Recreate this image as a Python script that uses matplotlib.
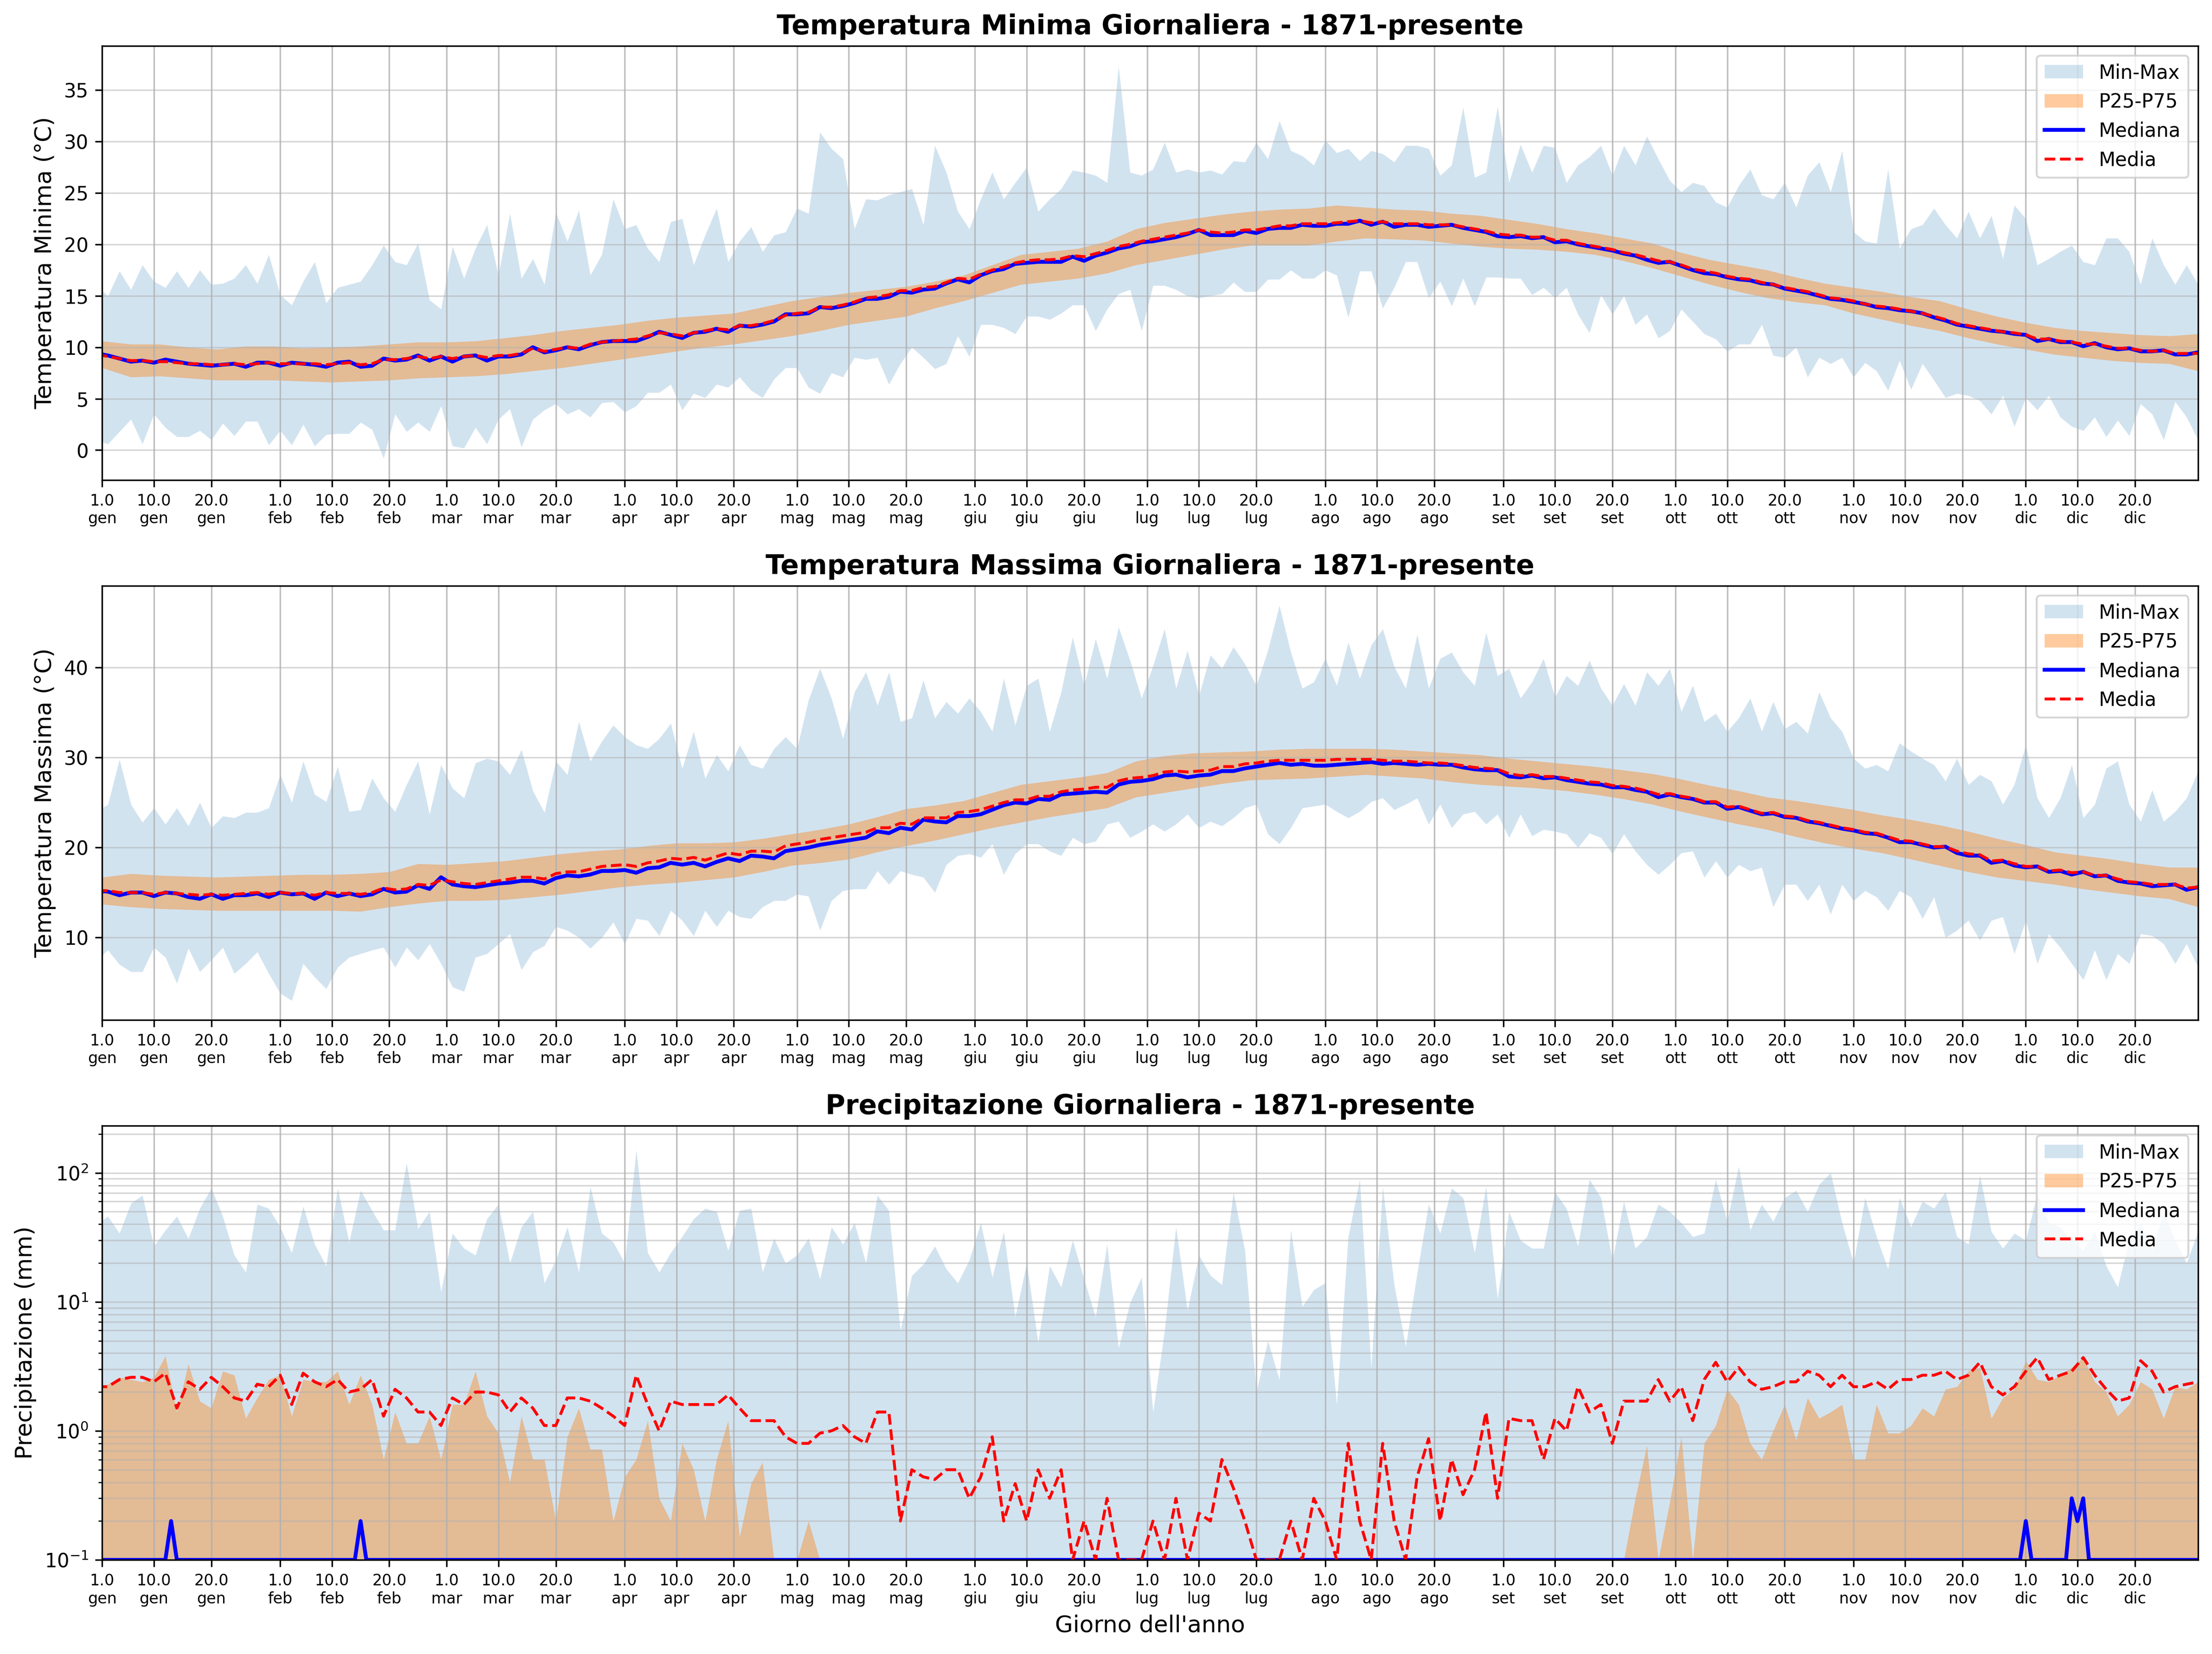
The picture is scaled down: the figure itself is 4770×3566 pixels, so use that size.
import numpy as np
import matplotlib.pyplot as plt

# griglie dei giorni (anno bisestile)
days2 = np.arange(0, 367, 2)
days5 = np.arange(1, 367, 5)
days_all = np.arange(1, 367)

month_names = ['gen', 'feb', 'mar', 'apr', 'mag', 'giu',
               'lug', 'ago', 'set', 'ott', 'nov', 'dic']
month_start = [1, 32, 61, 92, 122, 153, 183, 214, 245, 275, 306, 336]

# --- temperatura minima ---
tmin_max = [
    16.0, 15.0, 17.4, 15.6, 18.0, 16.4, 15.8, 17.4, 15.8, 17.5,
    16.1, 16.2, 16.7, 18.0, 16.2, 19.0, 15.1, 14.1, 16.4, 18.3,
    14.3, 15.8, 16.1, 16.4, 18.0, 19.9, 18.3, 18.0, 20.1, 14.6,
    13.7, 19.8, 16.7, 19.6, 21.9, 17.0, 23.0, 16.7, 18.6, 16.1,
    23.1, 20.3, 23.3, 17.0, 19.0, 24.4, 21.5, 21.9, 19.6, 18.3,
    22.2, 22.5, 18.0, 20.9, 23.5, 18.3, 20.3, 21.7, 19.3, 20.9,
    21.2, 23.5, 23.0, 30.9, 29.3, 28.3, 21.5, 24.4, 24.3, 24.8,
    25.1, 25.4, 21.9, 29.6, 27.0, 23.2, 21.5, 24.4, 27.0, 24.4,
    26.0, 27.5, 23.2, 24.4, 25.4, 27.2, 27.0, 26.7, 26.0, 37.3,
    27.0, 26.7, 27.3, 29.9, 27.0, 27.3, 27.0, 27.2, 26.8, 28.1,
    28.0, 29.9, 28.3, 32.0, 29.1, 28.6, 27.7, 30.1, 28.9, 29.3,
    28.1, 29.1, 28.8, 28.0, 29.6, 29.6, 29.3, 26.7, 27.7, 33.3,
    26.5, 27.0, 33.4, 26.0, 29.7, 27.0, 29.6, 29.4, 26.0, 27.7,
    28.5, 29.6, 26.7, 29.6, 27.7, 30.5, 28.3, 26.2, 25.1, 26.0,
    25.7, 24.1, 23.6, 25.7, 27.3, 24.8, 24.4, 26.0, 23.6, 26.7,
    28.0, 25.1, 29.1, 21.2, 20.3, 20.1, 27.3, 19.6, 21.5, 21.9,
    23.5, 21.9, 20.6, 23.2, 20.6, 22.8, 18.6, 23.8, 22.5, 18.0,
    18.6, 19.3, 19.9, 18.3, 18.0, 20.6, 20.6, 19.3, 16.1, 20.6,
    18.0, 16.1, 18.0, 16.1]
tmin_min = [
    1.0, 0.6, 1.8, 3.0, 0.6, 3.5, 2.2, 1.3, 1.3, 1.9,
    1.0, 2.6, 1.4, 2.8, 2.8, 0.5, 1.9, 0.5, 2.5, 0.4,
    1.5, 1.6, 1.6, 2.7, 2.0, -0.8, 3.5, 1.8, 2.7, 1.8,
    4.3, 0.4, 0.2, 2.2, 0.6, 3.0, 4.0, 0.3, 3.0, 3.9,
    4.5, 3.5, 4.0, 3.2, 4.6, 4.7, 3.7, 4.3, 5.6, 5.6,
    6.4, 3.9, 5.5, 5.1, 6.4, 6.1, 7.1, 5.8, 5.1, 6.9,
    8.0, 8.0, 6.1, 5.5, 7.5, 7.1, 9.0, 8.8, 9.0, 6.4,
    8.4, 10.0, 9.0, 7.9, 8.4, 11.1, 9.1, 12.2, 12.2, 11.9,
    11.3, 13.0, 13.0, 12.7, 13.3, 14.1, 14.1, 11.6, 13.7, 15.2,
    15.6, 11.6, 16.0, 16.0, 15.6, 15.0, 14.8, 15.0, 15.2, 16.3,
    15.4, 15.4, 16.6, 16.6, 17.5, 16.7, 16.7, 17.5, 17.0, 12.9,
    17.4, 17.4, 13.8, 15.8, 18.3, 18.3, 14.8, 16.4, 14.0, 16.7,
    14.0, 16.8, 16.8, 16.7, 16.7, 15.1, 15.8, 14.8, 15.8, 13.2,
    11.4, 15.1, 13.2, 15.0, 12.2, 13.2, 10.9, 11.6, 13.7, 12.5,
    11.3, 10.8, 9.6, 10.3, 10.3, 12.2, 9.2, 9.0, 10.0, 7.1,
    9.0, 8.4, 9.0, 7.1, 8.5, 7.7, 5.8, 8.7, 5.9, 8.4,
    6.8, 5.1, 5.5, 5.3, 4.8, 3.5, 5.3, 2.3, 5.1, 3.9,
    5.3, 3.2, 2.3, 1.9, 3.2, 1.3, 2.9, 1.4, 4.5, 3.5,
    1.0, 4.7, 3.2, 1.0]
tmin_median = [
    9.4, 9.2, 8.9, 8.6, 8.7, 8.5, 8.8, 8.6, 8.4, 8.3,
    8.2, 8.3, 8.4, 8.1, 8.5, 8.5, 8.2, 8.5, 8.4, 8.3,
    8.1, 8.5, 8.6, 8.1, 8.2, 8.9, 8.7, 8.8, 9.2, 8.7,
    9.1, 8.6, 9.1, 9.2, 8.7, 9.1, 9.1, 9.3, 10.0, 9.5,
    9.7, 10.0, 9.8, 10.2, 10.5, 10.6, 10.6, 10.6, 11.0, 11.5,
    11.2, 10.9, 11.4, 11.5, 11.8, 11.5, 12.1, 12.0, 12.2, 12.5,
    13.2, 13.2, 13.3, 13.9, 13.8, 14.0, 14.3, 14.7, 14.7, 14.9,
    15.4, 15.3, 15.6, 15.7, 16.2, 16.6, 16.3, 17.0, 17.4, 17.6,
    18.1, 18.2, 18.3, 18.3, 18.3, 18.8, 18.4, 18.9, 19.2, 19.6,
    19.8, 20.2, 20.3, 20.5, 20.7, 21.0, 21.4, 20.9, 20.9, 20.9,
    21.3, 21.1, 21.5, 21.6, 21.6, 21.9, 21.8, 21.8, 22.0, 22.0,
    22.3, 21.9, 22.2, 21.7, 21.9, 21.9, 21.7, 21.8, 21.9, 21.6,
    21.4, 21.2, 20.8, 20.7, 20.8, 20.6, 20.7, 20.2, 20.3, 20.0,
    19.8, 19.6, 19.4, 19.1, 18.9, 18.5, 18.2, 18.3, 17.9, 17.5,
    17.2, 17.1, 16.8, 16.6, 16.5, 16.2, 16.1, 15.7, 15.5, 15.3,
    15.0, 14.7, 14.6, 14.4, 14.2, 13.9, 13.8, 13.6, 13.5, 13.3,
    12.9, 12.6, 12.2, 12.0, 11.8, 11.6, 11.5, 11.3, 11.2, 10.6,
    10.8, 10.5, 10.5, 10.1, 10.4, 10.0, 9.8, 9.9, 9.6, 9.6,
    9.7, 9.3, 9.3, 9.5]
tmin_mean = [
    9.3, 9.1, 8.9, 8.7, 8.7, 8.6, 8.6, 8.5, 8.4, 8.4,
    8.3, 8.3, 8.4, 8.3, 8.4, 8.5, 8.4, 8.4, 8.4, 8.4,
    8.3, 8.4, 8.5, 8.3, 8.4, 8.8, 8.8, 8.9, 9.1, 8.9,
    9.1, 8.9, 9.1, 9.2, 9.0, 9.2, 9.2, 9.4, 9.9, 9.6,
    9.8, 10.0, 9.9, 10.3, 10.5, 10.6, 10.7, 10.8, 11.1, 11.4,
    11.3, 11.1, 11.4, 11.6, 11.8, 11.7, 12.1, 12.1, 12.3, 12.6,
    13.1, 13.3, 13.4, 13.9, 13.9, 14.1, 14.4, 14.8, 14.9, 15.1,
    15.5, 15.5, 15.8, 15.9, 16.3, 16.7, 16.6, 17.1, 17.5, 17.8,
    18.2, 18.4, 18.5, 18.5, 18.6, 18.9, 18.8, 19.1, 19.4, 19.8,
    20.0, 20.3, 20.5, 20.7, 20.9, 21.1, 21.4, 21.2, 21.1, 21.2,
    21.4, 21.4, 21.6, 21.8, 21.8, 22.0, 22.0, 22.0, 22.1, 22.2,
    22.3, 22.1, 22.2, 22.0, 22.0, 22.0, 21.9, 21.9, 21.9, 21.7,
    21.5, 21.3, 21.0, 20.9, 20.9, 20.7, 20.7, 20.4, 20.4, 20.1,
    19.9, 19.7, 19.5, 19.2, 19.0, 18.7, 18.4, 18.3, 18.0, 17.6,
    17.4, 17.2, 16.9, 16.7, 16.6, 16.3, 16.1, 15.8, 15.6, 15.4,
    15.1, 14.8, 14.7, 14.5, 14.2, 14.0, 13.9, 13.7, 13.5, 13.3,
    13.0, 12.7, 12.3, 12.1, 11.9, 11.7, 11.5, 11.4, 11.2, 10.8,
    10.8, 10.6, 10.5, 10.3, 10.3, 10.1, 9.9, 9.9, 9.7, 9.6,
    9.7, 9.4, 9.4, 9.4]
tmin_p75 = [
    10.6, 10.3, 10.3, 10.0, 9.8, 10.1, 10.1, 9.9, 10.0, 10.1,
    10.3, 10.5, 10.5, 10.6, 10.9, 11.2, 11.6, 11.9, 12.2, 12.6,
    12.9, 13.1, 13.3, 13.9, 14.5, 14.9, 15.3, 15.6, 15.9, 16.4,
    17.0, 18.0, 19.0, 19.3, 19.6, 20.3, 21.5, 22.1, 22.5, 22.9,
    23.2, 23.4, 23.5, 23.8, 23.6, 23.4, 23.3, 23.0, 22.8, 22.4,
    22.0, 21.5, 21.1, 20.6, 20.1, 19.2, 18.5, 18.0, 17.5, 16.8,
    16.2, 15.8, 15.4, 14.9, 14.5, 13.7, 13.0, 12.4, 11.9, 11.6,
    11.4, 11.2, 11.1, 11.3]
tmin_p25 = [
    8.0, 7.1, 7.2, 7.0, 6.8, 6.8, 6.8, 6.7, 6.6, 6.7,
    6.8, 7.0, 7.1, 7.2, 7.4, 7.7, 8.0, 8.4, 8.8, 9.2,
    9.6, 10.0, 10.3, 10.7, 11.1, 11.6, 12.2, 12.6, 13.0, 13.8,
    14.5, 15.3, 16.1, 16.4, 16.7, 17.2, 18.0, 18.5, 19.0, 19.5,
    19.9, 19.9, 19.9, 20.3, 20.6, 20.5, 20.4, 20.1, 19.8, 19.6,
    19.5, 19.3, 19.0, 18.4, 17.7, 16.9, 16.1, 15.4, 14.8, 14.4,
    14.1, 13.3, 12.7, 12.1, 11.6, 10.9, 10.3, 9.8, 9.3, 9.0,
    8.7, 8.5, 8.4, 7.7]

# --- temperatura massima ---
tmax_max = [
    24.0, 24.8, 29.8, 24.8, 22.8, 24.4, 22.6, 24.4, 22.4, 25.0,
    22.2, 23.5, 23.3, 23.9, 23.9, 24.4, 28.1, 25.0, 29.6, 25.9,
    25.1, 29.0, 24.0, 24.2, 27.7, 25.5, 24.0, 27.0, 29.6, 23.7,
    29.2, 26.6, 25.5, 29.4, 29.9, 29.6, 28.1, 30.9, 26.3, 23.9,
    29.6, 28.1, 34.0, 29.6, 31.8, 33.6, 32.3, 31.4, 31.0, 32.1,
    33.8, 28.8, 32.9, 27.7, 30.3, 28.5, 31.4, 29.2, 28.8, 31.0,
    32.3, 31.0, 36.4, 39.9, 36.6, 32.1, 37.3, 39.5, 35.8, 39.5,
    34.0, 34.4, 38.6, 34.4, 36.2, 34.9, 36.6, 35.1, 32.9, 38.8,
    33.6, 38.0, 38.8, 32.9, 37.3, 43.4, 38.0, 43.2, 38.8, 44.5,
    40.8, 36.6, 40.2, 44.3, 37.7, 41.9, 36.9, 41.4, 39.9, 42.3,
    40.4, 38.0, 41.9, 46.9, 41.7, 37.7, 38.4, 41.0, 38.0, 42.8,
    38.8, 42.5, 44.3, 40.1, 37.7, 43.7, 37.7, 41.0, 41.7, 39.5,
    38.0, 43.9, 39.1, 39.9, 36.6, 38.4, 41.0, 36.7, 39.1, 38.0,
    40.8, 37.7, 35.8, 38.2, 35.8, 39.5, 38.0, 39.9, 35.1, 38.0,
    34.0, 34.9, 32.9, 34.4, 36.6, 32.9, 36.2, 33.2, 34.0, 32.7,
    37.3, 34.4, 32.9, 29.9, 28.8, 29.2, 28.5, 31.6, 30.7, 29.9,
    29.2, 27.4, 29.9, 27.0, 28.1, 27.4, 24.8, 27.0, 31.4, 25.5,
    23.3, 25.5, 29.2, 23.3, 24.8, 28.8, 29.6, 24.8, 22.9, 26.4,
    22.9, 24.0, 25.5, 28.5]
tmax_min = [
    7.5, 8.6, 7.0, 6.2, 6.2, 8.9, 7.8, 4.9, 8.8, 6.2,
    7.5, 8.9, 6.0, 7.1, 8.4, 6.0, 3.8, 3.0, 7.1, 5.6,
    4.3, 6.7, 7.8, 8.2, 8.6, 8.9, 6.7, 8.9, 7.5, 9.3,
    7.1, 4.5, 4.0, 7.8, 8.2, 9.3, 10.4, 6.4, 8.4, 9.1,
    11.2, 10.8, 10.0, 8.8, 10.0, 11.7, 9.3, 12.1, 11.9, 10.2,
    13.0, 11.9, 10.2, 13.0, 11.2, 13.0, 12.3, 12.1, 13.4, 14.1,
    14.1, 14.8, 14.6, 10.8, 14.1, 15.2, 15.4, 15.4, 17.4, 15.9,
    17.4, 17.0, 16.7, 15.0, 18.1, 19.1, 19.3, 18.9, 20.4, 17.0,
    19.3, 20.4, 20.4, 19.6, 19.1, 21.1, 20.4, 20.7, 22.6, 22.9,
    21.1, 21.8, 22.6, 21.8, 22.6, 23.7, 22.2, 22.9, 22.4, 23.3,
    24.4, 24.8, 21.5, 20.4, 22.2, 24.4, 24.6, 24.8, 24.0, 23.3,
    24.0, 25.1, 25.5, 24.2, 24.8, 25.5, 22.6, 24.8, 22.2, 23.7,
    24.0, 22.6, 23.7, 21.1, 23.7, 21.3, 22.0, 21.8, 21.5, 20.0,
    21.6, 21.1, 19.3, 21.5, 19.6, 18.1, 17.0, 18.1, 19.4, 19.6,
    16.7, 18.5, 16.7, 18.1, 17.4, 17.8, 13.4, 15.9, 15.9, 14.1,
    15.9, 12.6, 15.9, 14.1, 15.2, 14.5, 13.0, 15.2, 14.5, 12.1,
    14.5, 10.0, 10.8, 11.9, 9.7, 11.9, 12.3, 8.2, 11.9, 7.1,
    10.4, 8.9, 7.1, 5.3, 8.6, 5.3, 8.2, 7.1, 10.4, 10.2,
    9.3, 7.1, 9.3, 6.7]
tmax_median = [
    15.2, 15.1, 14.7, 15.0, 15.0, 14.6, 15.0, 14.9, 14.5, 14.3,
    14.8, 14.3, 14.7, 14.7, 14.9, 14.5, 15.0, 14.8, 14.9, 14.3,
    15.0, 14.6, 14.9, 14.6, 14.8, 15.4, 15.0, 15.1, 15.8, 15.4,
    16.7, 15.9, 15.7, 15.6, 15.8, 16.0, 16.1, 16.3, 16.3, 16.0,
    16.6, 16.9, 16.8, 17.0, 17.4, 17.4, 17.5, 17.2, 17.7, 17.8,
    18.3, 18.1, 18.3, 17.9, 18.4, 18.8, 18.5, 19.1, 19.0, 18.8,
    19.6, 19.8, 20.0, 20.3, 20.5, 20.7, 20.9, 21.1, 21.8, 21.6,
    22.2, 22.0, 23.1, 22.9, 22.8, 23.5, 23.5, 23.7, 24.2, 24.7,
    25.0, 24.9, 25.4, 25.3, 25.9, 26.0, 26.1, 26.2, 26.1, 27.0,
    27.3, 27.4, 27.6, 28.0, 28.1, 27.8, 28.0, 28.1, 28.5, 28.5,
    28.8, 29.0, 29.2, 29.4, 29.2, 29.3, 29.1, 29.1, 29.2, 29.3,
    29.4, 29.5, 29.3, 29.4, 29.3, 29.2, 29.3, 29.2, 29.2, 28.9,
    28.7, 28.6, 28.6, 27.9, 27.8, 28.0, 27.7, 27.8, 27.5, 27.3,
    27.1, 27.0, 26.7, 26.7, 26.4, 26.2, 25.6, 25.9, 25.6, 25.4,
    25.0, 25.0, 24.3, 24.5, 24.1, 23.7, 23.8, 23.4, 23.3, 22.9,
    22.7, 22.4, 22.1, 21.9, 21.6, 21.5, 21.1, 20.6, 20.6, 20.3,
    20.0, 20.1, 19.4, 19.1, 19.1, 18.3, 18.5, 18.0, 17.8, 17.9,
    17.3, 17.4, 17.0, 17.3, 16.8, 16.9, 16.3, 16.1, 16.0, 15.7,
    15.8, 15.9, 15.3, 15.6]
tmax_mean = [
    15.2, 15.2, 15.0, 15.0, 15.0, 14.8, 15.0, 14.9, 14.8, 14.7,
    14.8, 14.7, 14.8, 14.9, 15.0, 14.8, 15.0, 14.9, 14.9, 14.7,
    15.0, 14.9, 14.9, 14.8, 15.0, 15.5, 15.3, 15.4, 15.9, 15.8,
    16.4, 16.2, 16.0, 15.9, 16.1, 16.3, 16.5, 16.7, 16.7, 16.5,
    17.1, 17.3, 17.3, 17.6, 17.9, 18.0, 18.1, 17.9, 18.3, 18.5,
    18.8, 18.7, 18.9, 18.6, 19.0, 19.4, 19.2, 19.6, 19.6, 19.5,
    20.2, 20.4, 20.6, 20.9, 21.1, 21.3, 21.5, 21.7, 22.2, 22.2,
    22.7, 22.6, 23.3, 23.3, 23.3, 23.9, 24.0, 24.2, 24.6, 25.0,
    25.3, 25.3, 25.7, 25.7, 26.2, 26.4, 26.5, 26.7, 26.7, 27.4,
    27.7, 27.8, 28.0, 28.4, 28.5, 28.4, 28.5, 28.6, 29.0, 29.0,
    29.3, 29.4, 29.6, 29.7, 29.7, 29.7, 29.7, 29.7, 29.8, 29.8,
    29.8, 29.8, 29.7, 29.6, 29.6, 29.5, 29.4, 29.4, 29.3, 29.1,
    28.9, 28.8, 28.7, 28.2, 28.0, 28.1, 27.9, 27.9, 27.7, 27.5,
    27.3, 27.2, 26.9, 26.8, 26.6, 26.3, 25.9, 26.0, 25.7, 25.5,
    25.1, 25.1, 24.5, 24.6, 24.2, 23.8, 23.9, 23.5, 23.4, 23.0,
    22.8, 22.5, 22.2, 22.0, 21.7, 21.6, 21.2, 20.8, 20.7, 20.4,
    20.1, 20.1, 19.6, 19.3, 19.2, 18.5, 18.6, 18.2, 17.9, 17.9,
    17.4, 17.5, 17.2, 17.3, 16.9, 16.9, 16.5, 16.2, 16.1, 15.9,
    15.9, 15.9, 15.5, 15.6]
tmax_p75 = [
    16.7, 17.1, 16.9, 16.8, 16.7, 16.8, 16.9, 17.0, 17.0, 17.1,
    17.3, 18.2, 18.1, 18.3, 18.5, 18.9, 19.3, 19.6, 19.8, 20.2,
    20.5, 20.5, 20.6, 21.0, 21.5, 22.0, 22.6, 23.4, 24.3, 24.7,
    25.2, 26.1, 27.0, 27.4, 27.8, 28.3, 29.6, 30.2, 30.5, 30.6,
    30.7, 30.9, 31.0, 31.0, 31.0, 30.9, 30.7, 30.5, 30.3, 29.9,
    29.6, 29.3, 29.0, 28.6, 28.2, 27.6, 26.9, 26.3, 25.6, 25.2,
    24.7, 24.2, 23.6, 23.1, 22.5, 21.8, 21.0, 20.3, 19.5, 19.1,
    18.7, 18.2, 17.8, 17.8]
tmax_p25 = [
    13.7, 13.4, 13.2, 13.1, 13.0, 13.0, 13.0, 13.0, 13.0, 12.9,
    13.4, 13.8, 14.1, 14.1, 14.2, 14.5, 14.8, 15.2, 15.6, 15.9,
    16.1, 16.4, 16.7, 17.3, 18.0, 18.3, 18.7, 19.5, 20.2, 20.8,
    21.5, 22.2, 22.8, 23.4, 23.9, 24.4, 25.6, 26.1, 26.6, 27.1,
    27.5, 27.6, 27.7, 27.9, 28.1, 27.9, 27.7, 27.3, 27.0, 26.8,
    26.6, 26.3, 25.9, 25.4, 24.8, 24.0, 23.3, 22.6, 22.0, 21.2,
    20.5, 19.9, 19.4, 18.7, 18.0, 17.3, 16.7, 16.3, 15.9, 15.4,
    15.0, 14.6, 14.3, 13.4]

# --- precipitazione ---
prec_max = [
    40, 46, 34, 58, 67, 27, 36, 46, 31, 53,
    76, 46, 23, 17, 57, 53, 38, 24, 55, 28,
    19, 76, 29, 73, 51, 36, 36, 119, 37, 50,
    12, 34, 26, 23, 44, 57, 20, 38, 50, 14,
    21, 38, 17, 78, 34, 29, 20, 150, 24, 17,
    24, 32, 44, 53, 50, 25, 51, 53, 17, 31,
    20, 23, 31, 15, 38, 28, 41, 20, 67, 51,
    6, 16, 19.5, 27, 18, 14, 21, 41, 15.5, 35,
    7.6, 20, 4.8, 19, 13, 30, 15, 7.6, 28, 4.4,
    9.8, 15.5, 1.4, 5.9, 38, 8.6, 23, 16, 13.6, 71,
    25, 2.0, 5.0, 2.5, 36, 9.2, 12.4, 14, 1.6, 32,
    89, 3.1, 78, 13.6, 4.5, 16.6, 57, 34, 76, 64,
    24, 78, 10.5, 50, 30, 26, 26, 71, 53, 27,
    89, 64, 21, 60, 26, 32, 57, 50, 41, 32,
    34, 89, 42, 112, 36, 57, 42, 64, 73, 50,
    81, 100, 41, 20, 64, 32, 18, 64, 38, 60,
    53, 71, 32, 28, 95, 35, 26, 34, 30, 69,
    41, 38, 30, 25, 35, 19, 13, 30, 40, 25,
    50, 30, 20, 35]
prec_p75 = ([
    2.1, 2.3, 2.6, 2.5, 2.4, 2.6, 3.8, 1.4, 3.3, 1.7,
    1.5, 2.9, 2.7, 1.25, 1.8, 2.5, 2.7, 1.3, 2.5, 2.4,
    2.4, 2.9, 1.6, 2.7, 1.6, 0.6, 1.4, 0.8, 0.8, 1.3,
    0.6, 1.6, 1.6, 2.9, 1.3, 0.96, 0.4, 1.3, 0.6, 0.6,
    0.2, 0.9, 1.5, 0.72, 0.72, 0.2, 0.44, 0.6, 1.2, 0.3,
    0.2, 0.8, 0.5, 0.2, 0.6, 1.2, 0.15, 0.39, 0.57, 0.0,
    0.0, 0.0, 0.2, 0.0, 0.0, 0.0, 0.0, 0.0, 0.0, 0.0]
    + [0.0] * 60 + [
    0.0, 0.0, 0.0, 0.0, 0.3, 0.77, 0.0, 0.28, 0.9, 0.0,
    0.8, 1.1, 2.1, 1.6, 0.8, 0.6, 1.0, 1.6, 0.85, 1.8,
    1.25, 1.4, 1.6, 0.6, 0.6, 1.6, 0.96, 0.96, 1.1, 1.5,
    1.3, 2.1, 2.2, 2.9, 3.1, 1.25, 1.8, 2.1, 3.5, 2.5,
    2.4, 2.7, 3.1, 3.7, 2.4, 2.0, 1.3, 1.6, 2.4, 2.1,
    1.25, 2.2, 2.1, 2.4])
prec_mean = [
    2.2, 2.2, 2.5, 2.6, 2.6, 2.4, 2.8, 1.5, 2.4, 2.1,
    2.6, 2.2, 1.8, 1.7, 2.3, 2.2, 2.7, 1.6, 2.8, 2.4,
    2.2, 2.5, 2.0, 2.1, 2.5, 1.3, 2.1, 1.8, 1.4, 1.4,
    1.1, 1.8, 1.6, 2.0, 2.0, 1.9, 1.4, 1.8, 1.5, 1.1,
    1.1, 1.8, 1.8, 1.7, 1.5, 1.3, 1.1, 2.7, 1.6, 1.0,
    1.7, 1.6, 1.6, 1.6, 1.6, 1.9, 1.5, 1.2, 1.2, 1.2,
    0.9, 0.8, 0.8, 0.96, 1.0, 1.1, 0.9, 0.8, 1.4, 1.4,
    0.2, 0.5, 0.44, 0.42, 0.5, 0.5, 0.3, 0.44, 0.9, 0.2,
    0.39, 0.2, 0.5, 0.3, 0.5, 0.1, 0.2, 0.0, 0.3, 0.0,
    0.0, 0.0, 0.2, 0.0, 0.3, 0.0, 0.23, 0.2, 0.6, 0.36,
    0.2, 0.0, 0.0, 0.0, 0.2, 0.0, 0.3, 0.2, 0.0, 0.8,
    0.2, 0.0, 0.8, 0.2, 0.0, 0.44, 0.87, 0.2, 0.6, 0.32,
    0.5, 1.4, 0.3, 1.25, 1.2, 1.2, 0.6, 1.25, 1.0, 2.2,
    1.4, 1.6, 0.8, 1.7, 1.7, 1.7, 2.5, 1.7, 2.2, 1.2,
    2.5, 3.4, 2.4, 3.1, 2.4, 2.1, 2.2, 2.4, 2.4, 2.9,
    2.7, 2.2, 2.7, 2.2, 2.2, 2.4, 2.1, 2.5, 2.5, 2.7,
    2.7, 2.9, 2.5, 2.7, 3.4, 2.2, 1.9, 2.2, 2.9, 3.7,
    2.5, 2.7, 2.9, 3.7, 2.7, 2.1, 1.7, 1.8, 3.5, 2.9,
    2.0, 2.2, 2.3, 2.4]
prec_min = np.zeros(len(days2))
prec_p25 = np.zeros(len(days2))
# mediana: zero tranne pochi giorni
prec_median_days = [13, 46, 336, 344, 345, 346]
prec_median_vals = [0.2, 0.2, 0.2, 0.3, 0.2, 0.3]
prec_median = np.zeros(len(days_all))
prec_median[np.array(prec_median_days) - 1] = prec_median_vals

# etichette asse x
tick_pos = []
tick_lab = []
for start, name in zip(month_start, month_names):
    for d in (1, 10, 20):
        tick_pos.append(start + d - 1)
        tick_lab.append(f"{d}.0\n{name}")


def disegna(ax, band_x, lo, hi, q_x, q25, q75, med_x, med, mean_x, mean,
            titolo, ylab):
    ax.fill_between(band_x, lo, hi, color='C0', alpha=0.2, linewidth=0,
                    label='Min-Max')
    ax.fill_between(q_x, q25, q75, color='C1', alpha=0.4, linewidth=0,
                    label='P25-P75')
    ax.plot(med_x, med, color='blue', lw=2, label='Mediana')
    ax.plot(mean_x, mean, 'r--', lw=1.5, label='Media')
    ax.set_title(titolo, fontsize=14, fontweight='bold')
    ax.set_ylabel(ylab, fontsize=12)
    ax.set_xlim(1, 366)
    ax.set_xticks(tick_pos)
    ax.set_xticklabels(tick_lab, fontsize=8)
    ax.legend(loc='upper right')


fig, axes = plt.subplots(3, 1, figsize=(15.9, 11.887), dpi=300)
fig.subplots_adjust(left=0.0462, right=0.9937, top=0.9723, bottom=0.0569,
                    hspace=0.2436)

ax = axes[0]
disegna(ax, days2, tmin_min, tmin_max, days5, tmin_p25, tmin_p75,
        days2, tmin_median, days2, tmin_mean,
        'Temperatura Minima Giornaliera - 1871-presente', 'Temperatura Minima (°C)')
ax.set_ylim(-2.9, 39.3)

ax = axes[1]
disegna(ax, days2, tmax_min, tmax_max, days5, tmax_p25, tmax_p75,
        days2, tmax_median, days2, tmax_mean,
        'Temperatura Massima Giornaliera - 1871-presente', 'Temperatura Massima (°C)')
ax.set_ylim(0.84, 49.1)

ax = axes[2]
ax.set_yscale('log')
floor = 0.1
disegna(ax, days2, np.maximum(prec_min, floor), np.maximum(prec_max, floor),
        days2, np.maximum(prec_p25, floor), np.maximum(prec_p75, floor),
        days_all, np.maximum(prec_median, floor),
        days2, np.maximum(prec_mean, floor),
        'Precipitazione Giornaliera - 1871-presente', 'Precipitazione (mm)')
ax.set_ylim(0.1, 232)
ax.set_xlabel("Giorno dell'anno", fontsize=12)

for ax in axes:
    ax.grid(True, axis='x', alpha=0.8)
    ax.grid(True, axis='y', which='both', alpha=0.5)

fig.savefig('out.png', dpi=300)
